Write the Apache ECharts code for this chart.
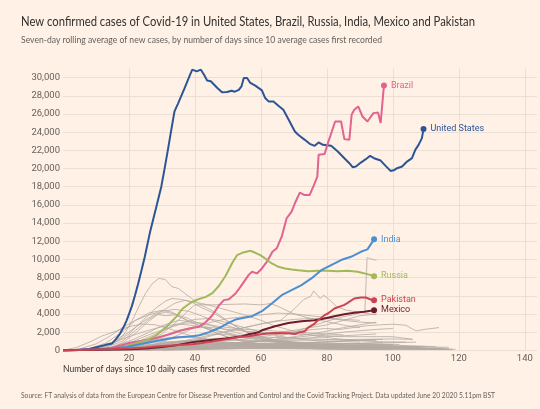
<!DOCTYPE html>
<html>
<head>
<meta charset="utf-8">
<script src="https://cdn.jsdelivr.net/npm/echarts@6/dist/echarts.min.js"></script>
<style>
html,body{margin:0;padding:0;background:#fff1e5;}
#chart{width:540px;height:409px;}
</style>
</head>
<body>
<div id="chart"></div>
<script>
// ---- Data (day since 10 avg cases, 7-day avg new cases) ----
const titleText = 'New confirmed cases of Covid-19 in United States, Brazil, Russia, India, Mexico and Pakistan';
const subtitleText = 'Seven-day rolling average of new cases, by number of days since 10 average cases first recorded';
const xAxisTitle = 'Number of days since 10 daily cases first recorded';
const sourceText = 'Source: FT analysis of data from the European Centre for Disease Prevention and Control and the Covid Tracking Project. Data updated June 20 2020 5.11pm BST';

const unitedStates = [[0,10],[4,40],[8,150],[11.3,440],[13,600],[14.8,740],[16,1200],[17.3,1840],[18.3,2500],[19.3,3300],[20.8,4780],[21.8,6000],[22.8,7360],[23.8,8800],[24.8,10290],[26.3,12870],[28.3,15800],[29.8,18010],[30.8,20000],[31.8,22060],[32.8,24200],[33.8,26290],[34.8,27100],[35.8,27940],[36.8,28800],[37.7,29600],[38.5,30300],[39.2,30880],[39.8,30960],[40.5,30700],[41.8,30880],[42.8,30300],[43.7,29700],[44.8,29600],[46.8,28860],[48.2,28400],[49.7,28420],[51.1,28570],[52.1,28460],[53.3,28650],[54.1,29040],[54.8,29970],[55.8,29970],[56.8,29420],[58.3,29120],[60.3,28600],[61.3,27760],[62.3,27390],[63.8,27390],[65.3,26910],[66.8,26470],[68.3,25450],[70.3,24080],[71.3,23720],[73.3,23160],[74.8,22720],[76.3,22500],[77.5,22870],[78.8,22610],[81.3,22500],[83.3,21870],[85.3,21140],[86.8,20590],[87.8,20150],[88.8,20220],[90.3,20660],[91.8,21030],[93.1,21400],[94.3,21140],[96.3,20880],[97.8,20300],[99.3,19740],[100.5,19850],[101.3,20040],[102.8,20220],[104.3,20770],[105.8,21140],[106.8,22060],[107.8,22610],[108.8,23350],[109.3,24340]];
const brazil = [[0,10],[5,30],[10,80],[15,250],[20,800],[24,1050],[28.3,1360],[32.3,1765],[35.3,2130],[38.3,2390],[41.3,2600],[43.3,3120],[45.3,3860],[47.3,4950],[48.8,5520],[50.3,5620],[52.3,6250],[53.8,6980],[56.3,8300],[57.3,8640],[58.8,8460],[60.3,9010],[61.8,9740],[63.5,10840],[64.8,11220],[66.3,12500],[67.8,14530],[69.3,15260],[70.3,16180],[71.8,17350],[73.1,17100],[74.8,17100],[76.1,18200],[77.1,19110],[77.5,21510],[79.3,21590],[80.3,22800],[81.5,24080],[82.5,25180],[84.3,25180],[85.3,23240],[86.8,23160],[87.5,25920],[88.3,26470],[89.5,26840],[90.8,25730],[92.3,25180],[94.1,26100],[95.5,26170],[96.3,25010],[97.3,29150]];
const russia = [[0,10],[5,20],[10,50],[15,150],[19,400],[22.3,810],[25.3,1100],[28.3,1650],[31.3,2570],[34.3,3680],[36.3,4600],[38.8,5260],[40.8,5590],[43.3,5880],[45.3,6300],[47.3,7100],[49.3,8200],[51.3,9600],[52.8,10480],[54.3,10730],[56.8,10950],[58.3,10730],[59.8,10480],[61.3,10110],[63.3,9560],[65.3,9190],[67.3,9010],[69.3,8900],[71.3,8820],[74.3,8710],[77.3,8750],[80.3,8750],[83.3,8710],[86.3,8750],[89.3,8640],[92.3,8380],[94.3,8160]];
const india = [[0,10],[5,30],[10,80],[15,200],[19.3,370],[24.3,740],[29.3,1100],[34.3,1400],[39.3,1550],[41.3,1650],[44.3,2000],[47.3,2450],[50.3,3050],[52.3,3380],[55.3,3600],[57.3,3750],[60.3,4300],[63.3,5150],[66.3,6070],[69.3,6620],[72.3,7170],[75.3,7910],[78.3,8820],[81.3,9380],[84.3,9930],[87.3,10290],[90.3,10840],[92.3,11110],[94.3,12210]];
const mexico = [[0,10],[5,20],[10,50],[15,80],[20,120],[25,200],[30,350],[34.3,550],[39.3,900],[44.3,1100],[49.3,1290],[54.3,1540],[56.3,1765],[59.1,1950],[60.3,2200],[64.3,2650],[68.3,3010],[72.3,3200],[76.3,3310],[79.3,3500],[82.3,3750],[85.3,3970],[88.3,4120],[91.3,4230],[94.3,4410]];
const pakistan = [[0,10],[5,30],[10,80],[15,130],[20,200],[25,300],[29.3,440],[34,550],[39.3,660],[44.3,900],[47.3,1100],[50,1250],[53.3,1470],[56.3,1550],[59.3,1750],[62,1850],[64.3,1900],[68.3,1880],[70.3,1800],[71.5,1950],[73.3,2100],[74.3,2500],[76.3,2940],[77.3,3300],[79.3,3860],[80.3,4050],[82.3,4600],[85.3,5000],[86.3,5220],[88.3,5700],[90.3,5810],[91.8,5810],[93.3,5590],[94.3,5520]];

const otherCountries = [
  [[6,0],[10,150],[14,500],[17,1200],[19,2000],[21,3300],[23,4800],[25,6250],[27,7300],[29,7900],[31,7800],[33,7000],[35,6800],[37,6250],[39,5700],[41,5150],[44,4600],[47,4000],[50,3200],[54,2300],[58,1600],[62,1100],[66,800],[70,600],[75,450],[80,350],[85,300],[90,280]],
  [[5,0],[10,200],[15,700],[20,1800],[24,3200],[28,4600],[31,5400],[33,5700],[36,5600],[39,5300],[42,4700],[45,4200],[48,3600],[52,2700],[56,2000],[60,1500],[65,1000],[70,700],[75,550],[80,420],[86,350]],
  [[8,0],[13,300],[18,1000],[22,2200],[26,3400],[30,4300],[34,5200],[37,5500],[40,5300],[44,5000],[48,4600],[52,4200],[56,3800],[60,3300],[64,2700],[68,2300],[72,1900],[76,1600],[80,1400],[85,1200],[90,1100],[95,1050]],
  [[15,0],[20,300],[25,800],[30,1800],[35,3300],[38,4400],[40,5000],[45,5000],[50,5050],[55,5100],[60,5000],[63,5150],[66,4700],[70,4000],[74,3600],[78,3300],[82,3000],[86,2700],[90,2500]],
  [[0,0],[5,150],[10,700],[14,1500],[18,2500],[22,3300],[26,3900],[30,4300],[34,4500],[38,4300],[42,3800],[46,3200],[50,2700],[55,2100],[60,1500],[65,1100],[70,800],[75,600],[80,450],[90,300],[100,250],[110,250]],
  [[3,0],[8,200],[13,800],[18,2000],[22,3300],[26,4100],[30,4400],[33,4200],[36,3600],[40,2900],[44,2300],[48,1700],[52,1200],[56,900],[60,700],[65,550],[70,450],[80,400],[90,400],[100,420]],
  [[4,0],[10,300],[15,900],[20,2000],[24,3100],[28,4000],[31,3800],[34,3900],[37,3400],[40,2900],[44,2300],[48,1700],[52,1200],[58,800],[64,600],[70,500],[80,450],[90,480],[100,500]],
  [[0,0],[4,300],[8,900],[12,1600],[16,2100],[20,2600],[24,2900],[28,2800],[32,2400],[36,1900],[40,1500],[44,1200],[48,1100],[52,1100],[56,1300],[60,1500],[64,1700],[68,1900],[72,2100],[76,2300],[80,2400],[84,2300],[88,2500],[92,2700],[96,2800],[100,2870],[104,2750],[107,2130],[110,2320],[114,2500]],
  [[10,0],[14,200],[18,800],[22,1900],[26,3200],[29,4000],[31,4200],[34,4000],[38,3500],[42,2800],[46,2200],[50,1800],[55,1400],[60,1100],[65,1000],[70,900],[75,850],[80,900],[85,1000],[90,1100],[95,1200]],
  [[8,0],[14,300],[20,1000],[25,1800],[30,2700],[35,3300],[40,3100],[45,2700],[50,2200],[55,1700],[60,1300],[65,1000],[70,800],[80,600],[90,500]],
  [[12,0],[18,300],[24,800],[30,1500],[35,2200],[40,2600],[45,2500],[50,2300],[55,2100],[60,2000],[65,1900],[70,1800],[75,1700],[80,1600],[85,1500],[90,1500],[95,1500],[100,1500],[104,1300],[106,1210]],
  [[20,0],[25,200],[30,500],[35,900],[40,1300],[45,1700],[50,2100],[55,2500],[60,2900],[64,3200],[66,3310],[70,4500],[73,5600],[75,5900],[76,6540],[78,5700],[79,6070],[81,5500],[83,4780],[86,4400],[90,4200],[93,4000],[95,3900]],
  [[25,0],[30,200],[35,350],[40,450],[45,500],[50,600],[55,800],[60,1100],[65,1500],[70,2000],[75,2600],[80,3200],[85,3700],[88,3900],[91.5,4300],[92.2,10200],[93,10100],[95,9900]],
  [[15,0],[20,100],[30,300],[40,800],[50,1200],[60,1700],[70,2200],[80,2800],[85,3300],[90,3800],[95,4000]],
  [[20,0],[30,150],[40,300],[50,600],[60,1000],[70,1500],[80,2100],[85,2500],[90,2800],[95,3100]],
  [[5,0],[12,200],[18,500],[24,900],[30,1300],[35,1500],[40,1400],[45,1100],[50,800],[55,600],[60,400],[70,250],[80,150],[90,100]],
  [[10,0],[18,300],[25,700],[30,1100],[35,1400],[40,1600],[45,1800],[50,1700],[55,1500],[60,1300],[65,1100],[70,900],[75,700],[80,550],[85,450],[90,400],[95,350]],
  [[5,0],[10,300],[15,800],[20,1500],[25,2100],[30,2600],[35,2900],[40,2700],[45,2300],[50,1900],[55,1500],[60,1200],[65,1000],[70,900],[80,800],[90,700],[100,650]],
  [[10,0],[15,200],[20,600],[25,1300],[30,2100],[35,2900],[40,3400],[44,3500],[48,3200],[52,2800],[56,2400],[60,2000],[65,1600],[70,1300],[75,1100],[80,1000],[90,900]],
  [[8,0],[14,250],[20,800],[26,1700],[32,2500],[37,3000],[42,3000],[46,2700],[50,2500],[55,2300],[60,2200],[65,2100],[70,2000],[75,1900],[80,1800],[85,1700]],
  [[20,0],[25,300],[30,900],[35,1700],[40,2500],[45,3100],[50,3500],[55,3700],[60,3900],[65,4100],[70,4000],[75,3800],[80,3600],[85,3300],[90,3100],[95,3000]],
  [[25,0],[30,200],[35,600],[40,1100],[45,1600],[50,2100],[55,2500],[60,2900],[65,3200],[70,3400],[75,3500],[80,3500],[85,3400],[90,3300]],
  [[0,0],[10,60],[20,200],[30,450],[40,700],[50,800],[60,650],[70,500],[80,380],[90,300],[100,250],[110,200],[117,150]],
  [[2,0],[12,100],[22,350],[32,700],[42,900],[52,850],[62,700],[72,600],[82,500],[92,420],[102,380],[109,370]],
  [[5,0],[15,150],[25,500],[35,1000],[45,1200],[55,1100],[65,900],[75,700],[85,550],[95,450],[105,400]],
  [[10,0],[20,150],[30,350],[40,600],[50,800],[60,1000],[70,1100],[80,1150],[90,1200],[100,1250],[106,1210]],
  [[0,0],[8,80],[16,250],[24,500],[32,800],[40,1000],[48,900],[56,750],[64,600],[72,450],[80,350],[90,250],[100,200],[110,150],[118,100]],
  [[3,0],[13,80],[23,200],[33,400],[43,600],[53,750],[63,800],[73,750],[83,700],[93,650],[100,600]],
  [[0,0],[10,50],[20,150],[30,300],[40,400],[50,450],[60,400],[70,350],[80,300],[90,250],[100,230],[110,220],[116,200]],
  [[6,0],[16,120],[26,400],[36,900],[46,1300],[56,1500],[66,1400],[76,1250],[86,1100],[96,950],[104,900]],
  [[0,0],[10,40],[20,100],[30,200],[40,350],[50,500],[60,650],[70,800],[80,950],[90,1100],[97,1200]],
  [[0,0],[10,100],[20,400],[30,800],[40,1000],[50,900],[60,700],[70,500],[80,350],[90,250],[100,200]],
  [[4,0],[14,60],[24,150],[34,250],[44,350],[54,400],[64,380],[74,330],[84,280],[94,240],[104,220],[112,200]],
  [[0,0],[10,30],[20,80],[30,150],[40,200],[50,250],[60,230],[70,200],[80,180],[90,160],[100,150],[110,140],[119,120]],
  [[8,0],[18,200],[28,600],[38,1100],[48,1300],[58,1100],[68,800],[78,600],[88,500],[98,450]],
  [[0,0],[10,150],[20,500],[28,900],[36,1000],[44,850],[52,600],[60,400],[70,250],[80,150],[90,100],[100,80]],
  [[10,0],[20,80],[30,250],[40,500],[50,800],[60,1000],[70,1250],[80,1500],[90,1700],[95,1800]],
  [[0,0],[10,80],[20,250],[30,500],[40,650],[50,600],[60,500],[70,420],[80,380],[90,350],[100,320],[108,300]],
  [[15,0],[25,100],[35,300],[45,600],[55,900],[65,1200],[75,1600],[85,2000],[95,2300],[100,2400]],
  [[0,0],[12,50],[24,120],[36,200],[48,250],[60,220],[72,180],[84,150],[96,130],[108,120],[115,110]],
  [[15,0],[25,80],[35,200],[45,400],[55,600],[65,750],[75,800],[85,750],[95,650],[105,500],[113,400]],
  [[10,0],[20,60],[30,150],[40,300],[50,450],[60,550],[70,600],[80,580],[90,520],[100,450],[110,380],[117,330]],
  [[20,0],[30,50],[40,120],[50,220],[60,350],[70,500],[80,650],[90,780],[100,850],[107,900]],
  [[0,0],[10,100],[20,300],[30,550],[40,700],[50,650],[60,550],[70,450],[80,400],[90,380],[100,360]],
  [[5,0],[15,50],[25,120],[35,220],[45,320],[55,380],[65,400],[75,380],[85,340],[95,300],[105,270],[115,240]],
  [[25,0],[35,100],[45,250],[55,400],[65,550],[75,650],[85,700],[95,680],[102,650]],
  [[0,0],[10,30],[20,60],[30,100],[40,140],[50,170],[60,180],[70,170],[80,150],[90,130],[100,110],[110,90],[118,80]],
  [[12,0],[22,100],[32,250],[42,450],[52,600],[62,700],[72,680],[82,600],[92,520],[102,460],[110,420]],
  [[30,0],[40,60],[50,150],[60,300],[70,450],[80,600],[90,750],[97,850]],
  [[8,0],[18,40],[28,90],[38,160],[48,230],[58,280],[68,300],[78,290],[88,270],[98,250],[108,230]]
];

const highlighted = [
  {name:'United States', data: unitedStates, color:'#2c5597'},
  {name:'Brazil', data: brazil, color:'#e0648f'},
  {name:'Russia', data: russia, color:'#a1b95a'},
  {name:'India', data: india, color:'#4a8fd2'},
  {name:'Mexico', data: mexico, color:'#701b2d'},
  {name:'Pakistan', data: pakistan, color:'#cc4451'}
];

const xTicks = [20,40,60,80,100,120,140];
const yMaxLabel = 30000;

// ---- Chart ----
const TEXT_FONT = "'Lato','Roboto',sans-serif";
const LABEL_FONT = "'Roboto','Liberation Sans',sans-serif";
const gridCol = '#eadfd5';

const measureCtx = document.createElement('canvas').getContext('2d');
function fitText(text, x, y, size, targetWidth, color) {
  const font = size + 'px ' + TEXT_FONT;
  measureCtx.font = font;
  const w = measureCtx.measureText(text).width;
  return {type:'text', x:x, y:y, scaleX: targetWidth / w,
    style:{text:text, font:font, fill:color, verticalAlign:'middle'}};
}

const chart = echarts.init(document.getElementById('chart'), null, {renderer:'canvas'});

const series = [];
otherCountries.forEach((d) => {
  series.push({
    type:'line', data:d, showSymbol:false, silent:true, clip:false,
    lineStyle:{color:'#b4aaa2', width:0.8}, z:2
  });
});
highlighted.forEach((s, i) => {
  const last = s.data.length - 1;
  series.push({
    type:'line', name:s.name, data:s.data, clip:false,
    symbol:'circle', showSymbol:true,
    symbolSize:(v, p) => p.dataIndex === last ? 6 : 0,
    itemStyle:{color:s.color},
    lineStyle:{color:s.color, width:2},
    endLabel:{show:true, formatter:s.name, color:s.color, fontFamily:LABEL_FONT, fontSize:9, distance:7},
    z:5 + i
  });
});

const ySplitColors = [];
for (let v = 0; v <= 30000; v += 2000) ySplitColors.push(gridCol);
ySplitColors.push('rgba(0,0,0,0)');
const xSplitColors = ['rgba(0,0,0,0)'];
xTicks.forEach(() => xSplitColors.push(gridCol));
xSplitColors.push('rgba(0,0,0,0)');

chart.setOption({
  backgroundColor:'#fff1e5',
  animation:false,
  grid:{left:63, right:0, top:68.6, bottom:58.7, containLabel:false},
  xAxis:{
    type:'value', min:0, max:143.7, interval:20,
    axisLine:{show:false}, axisTick:{show:false},
    splitLine:{show:true, lineStyle:{color:xSplitColors, width:1}},
    axisLabel:{color:'#66605c', fontFamily:LABEL_FONT, fontSize:9.5, margin:3,
      formatter:v => xTicks.indexOf(v) >= 0 ? String(v) : ''}
  },
  yAxis:{
    type:'value', min:0, max:31000, interval:2000,
    axisLine:{show:false}, axisTick:{show:false},
    splitLine:{show:true, lineStyle:{color:ySplitColors, width:1}},
    axisLabel:{color:'#66605c', fontFamily:LABEL_FONT, fontSize:9.5, margin:3,
      formatter:v => v <= yMaxLabel && v % 2000 === 0 ? v.toLocaleString('en-US') : ''}
  },
  graphic:[
    fitText(titleText, 21, 21, 14, 454, '#33302e'),
    fitText(subtitleText, 21, 39.5, 9.5, 361, '#66605c'),
    fitText(xAxisTitle, 63, 368.5, 10, 187, '#33302e'),
    fitText(sourceText, 21, 395, 8, 474, '#66605c')
  ],
  series: series
});
</script>
</body>
</html>
